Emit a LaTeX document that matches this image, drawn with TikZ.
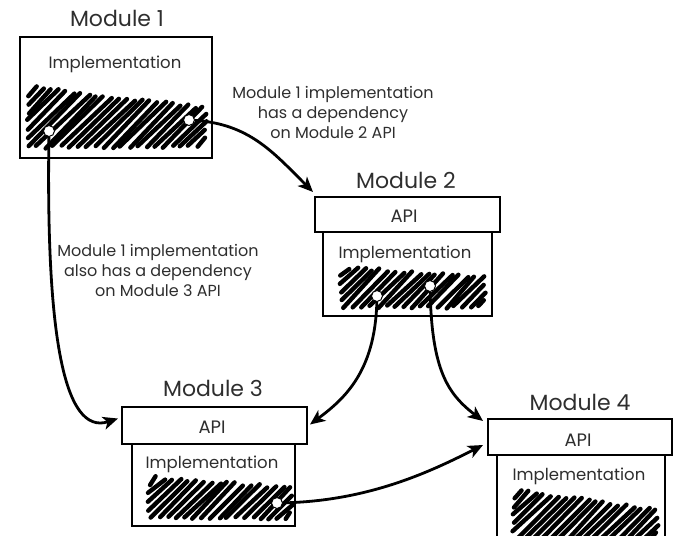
\documentclass[tikz,border=0pt]{standalone}
\usepackage{fontspec}
\setmainfont{Poppins}
\usetikzlibrary{arrows.meta}
\definecolor{txt}{HTML}{2E2E2E}
\newcommand\myscrib[6]{% xl xr yb tL tR step
  \pgfmathsetmacro\mm{(#5-#4)/(#2-#1)}
  \pgfmathsetmacro\hh{#4-#3}
  \foreach \i in {0,...,60}{
    \pgfmathsetmacro\xi{#1-\hh+\i*#6}
    \pgfmathsetmacro\xs{max(\xi,#1)}
    \pgfmathsetmacro\ys{#3+\xs-\xi}
    \pgfmathsetmacro\xe{min((#4-\mm*#1-#3+\xi)/(1-\mm),#2)}
    \pgfmathsetmacro\ye{#3+\xe-\xi}
    \pgfmathtruncatemacro\ok{\xs<\xe-3 ? 1 : 0}
    \ifnum\ok=1 \draw[scribble] ({\xs+1.5*rand},{\ys+1.5*rand}) -- ({\xe+1.5*rand},{\ye+1.5*rand}); \fi
  }}
\begin{document}
\begin{tikzpicture}[x=1pt,y=1pt,
  box/.style={draw=black, line width=2.3pt, fill=white, inner sep=0pt, outer sep=0pt},
  title/.style={font=\fontsize{22}{26}\selectfont, text=txt, inner sep=0pt},
  inner/.style={font=\fontsize{16.5}{20}\selectfont, text=txt, inner sep=0pt},
  apitext/.style={font=\fontsize{18}{20}\selectfont, text=txt, inner sep=0pt},
  note/.style={font=\fontsize{16}{20}\selectfont, text=txt, align=center, inner sep=0pt},
  scribble/.style={line width=4.4pt, line cap=round, black},
  dot/.style={circle, draw=black, line width=1pt, fill=white, minimum size=11pt, inner sep=0pt},
  dep/.style={line width=2.8pt, -{Stealth[length=15pt,width=13pt,inset=4pt]}}]
\pgfmathsetseed{7}
\useasboundingbox (0,0) rectangle (673,-536);
% Module 1
\node[box, minimum width=192pt, minimum height=121pt] (m1) at (116,-97.5) {};
\node[title] (t1) at (117,-18) {Module 1};
\node[inner] (i1) at (115,-64) {Implementation};
\myscrib{28}{206}{-147}{-87}{-108}{8.5}
% Module 2
\node[box, minimum width=185pt, minimum height=35pt] (a2) at (407.5,-214.5) {};
\node[box, minimum width=169pt, minimum height=84pt] (m2) at (407.5,-274) {};
\draw[box, fill=none] (a2.south west) rectangle (a2.north east);
\node[title] (t2) at (406,-180) {Module 2};
\node[apitext] (p2) at (404,-216) {API};
\node[inner] (i2) at (405,-254) {Implementation};
\myscrib{341}{485}{-307}{-267}{-278}{8.5}
% Module 3
\node[box, minimum width=185pt, minimum height=37pt] (a3) at (214.5,-425.5) {};
\node[box, minimum width=163pt, minimum height=82pt] (m3) at (213.5,-485) {};
\draw[box, fill=none] (a3.south west) rectangle (a3.north east);
\node[title] (t3) at (213,-388) {Module 3};
\node[apitext] (p3) at (212,-427) {API};
\node[inner] (i3) at (212,-464) {Implementation};
\myscrib{149}{291}{-518}{-477}{-488}{8.5}
% Module 4
\node[box, minimum width=184pt, minimum height=36pt] (a4) at (580,-437) {};
\node[box, minimum width=168pt, minimum height=90pt] (m4) at (581,-500) {};
\draw[box, fill=none] (a4.south west) rectangle (a4.north east);
\node[title] (t4) at (580,-402) {Module 4};
\node[apitext] (p4) at (578,-440) {API};
\node[inner] (i4) at (579,-476) {Implementation};
\myscrib{514}{657}{-548}{-490}{-510}{8.5}
% notes
\node[note] (n1) at (333,-112) {Module 1 implementation\\has a dependency\\on Module 2 API};
\node[note] (n2) at (158,-270) {Module 1 implementation\\also has a dependency\\on Module 3 API};
% dots
\node[dot] (d1a) at (49,-131) {};
\node[dot] (d1b) at (189,-120) {};
\node[dot] (d2a) at (377,-296) {};
\node[dot] (d2b) at (430,-286) {};
\node[dot] (d3) at (277,-503) {};
% tips
\coordinate (e1) at ([xshift=-2pt,yshift=5pt]a2.north west);
\coordinate (e2) at ([xshift=-4pt,yshift=7pt]a3.west);
\coordinate (e3) at ([xshift=3pt,yshift=1pt]a3.east);
\coordinate (e4) at ([xshift=-5pt,yshift=-2pt]a4.north west);
\coordinate (e5) at ([xshift=-5pt,yshift=-8pt]a4.west);
% arrows
\draw[dep] (d1b) .. controls +(60,-4) and +(-40,40) .. (e1);
\draw[dep] (d1a) .. controls +(-3,-200) and +(-55,-18) .. (e2);
\draw[dep] (d2a) .. controls +(-2,-75) and +(35,26) .. (e3);
\draw[dep] (d2b) .. controls +(2,-85) and +(-35,27) .. (e4);
\draw[dep] (d3) .. controls +(90,2) and +(-55,-28) .. (e5);
\end{tikzpicture}
\end{document}
